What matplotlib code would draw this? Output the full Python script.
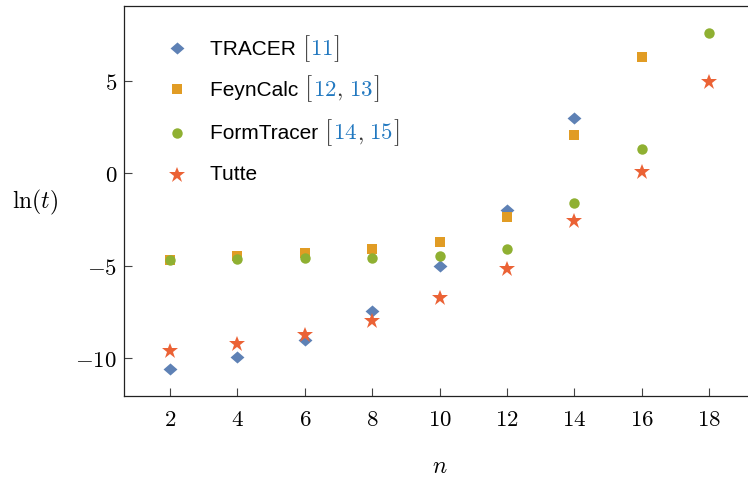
import matplotlib
matplotlib.use('Agg')
import matplotlib.pyplot as plt
from matplotlib.path import Path
from matplotlib.offsetbox import TextArea, HPacker, AnchoredOffsetbox

plt.rcParams['mathtext.fontset'] = 'cm'
plt.rcParams['font.family'] = ['Liberation Sans', 'DejaVu Sans']

# data
n_tracer = [2, 4, 6, 8, 10, 12, 14]
t_tracer = [-10.56, -9.93, -8.99, -7.44, -5.02, -1.99, 2.99]
n_feyn = [2, 4, 6, 8, 10, 12, 14, 16]
t_feyn = [-4.70, -4.48, -4.33, -4.12, -3.70, -2.35, 2.09, 6.26]
n_form = [2, 4, 6, 8, 10, 12, 14, 16, 18]
t_form = [-4.70, -4.66, -4.60, -4.57, -4.48, -4.08, -1.63, 1.33, 7.56]
n_tutte = [2, 4, 6, 8, 10, 12, 14, 16, 18]
t_tutte = [-9.60, -9.21, -8.72, -7.98, -6.73, -5.18, -2.56, 0.05, 4.91]

xticks = [2, 4, 6, 8, 10, 12, 14, 16, 18]
yticks = [-10, -5, 0, 5]

names = ['TRACER', 'FeynCalc', 'FormTracer', 'Tutte']
refs = [['11'], ['12', '13'], ['14', '15'], []]

blue = '#5E81B5'
orange = '#E19C24'
green = '#8FB032'
red = '#EB6235'
refblue = '#2178C0'

diamond = Path([(-1, 0), (0, -0.87), (1, 0), (0, 0.87), (-1, 0)],
               [Path.MOVETO, Path.LINETO, Path.LINETO, Path.LINETO, Path.CLOSEPOLY])

styles = [dict(marker=diamond, ms=10, color=blue),
          dict(marker='s', ms=6.8, color=orange),
          dict(marker='o', ms=7.5, color=green),
          dict(marker='*', ms=12, color=red)]

fig = plt.figure(figsize=(7.48, 4.78), dpi=100)
ax = fig.add_axes([124/748, 82/478, 624/748, 390/478])

series = [(n_tracer, t_tracer), (n_feyn, t_feyn), (n_form, t_form), (n_tutte, t_tutte)]
for (xs, ys), st in zip(series, styles):
    ax.plot(xs, ys, ls='none', mew=0, **st)

ax.set_xlim(0.635, 19.15)
ax.set_ylim(-12.04, 9.04)
ax.set_xticks(xticks)
ax.set_xticklabels(['$%d$' % v for v in xticks])
ax.set_yticks(yticks)
ax.set_yticklabels(['$%d$' % v for v in yticks])
ax.tick_params(direction='in', length=5.5, width=0.8, color='#444444', labelsize=16.5)
ax.tick_params(axis='x', pad=9)
ax.tick_params(axis='y', pad=5)
ax.spines['right'].set_visible(False)
for s in ['left', 'bottom', 'top']:
    ax.spines[s].set_linewidth(0.9)
    ax.spines[s].set_color('#222222')

ax.set_xlabel('$n$', fontsize=17)
ax.xaxis.set_label_coords(0.506, -0.182)
ax.xaxis.label.set_va('center')
ax.set_ylabel('$\\ln(t)$', fontsize=17, rotation=0, ha='center', va='center')
ax.yaxis.set_label_coords(-0.143, 0.495)

# legend drawn by hand so the reference numbers can be blue
rows_y = [48.3, 89, 132.7, 175]
grey = dict(fontsize=19, color='#333333')
for name, rr, st, yy in zip(names, refs, styles, rows_y):
    yf = (396 - yy) / 390
    ax.plot([(176.7 - 124) / 624], [yf], transform=ax.transAxes, ls='none',
            mew=0, clip_on=False, **st)
    parts = [TextArea(name + ' ', textprops=dict(fontsize=15, color='black'))]
    if rr:
        parts.append(TextArea('$[$', textprops=grey))
        for i, r in enumerate(rr):
            if i > 0:
                parts.append(TextArea('$,$', textprops=dict(fontsize=16, color='#333333')))
                parts.append(TextArea(' ', textprops=dict(fontsize=15)))
            parts.append(TextArea('$%s$' % r, textprops=dict(fontsize=16.5, color=refblue)))
        parts.append(TextArea('$]$', textprops=grey))
    box = HPacker(children=parts, align='baseline', pad=0, sep=0)
    ab = AnchoredOffsetbox(loc='center left', child=box, pad=0, borderpad=0,
                           frameon=False, bbox_to_anchor=((210 - 124) / 624, yf),
                           bbox_transform=ax.transAxes)
    ax.add_artist(ab)

fig.savefig('out.png', dpi=100)
